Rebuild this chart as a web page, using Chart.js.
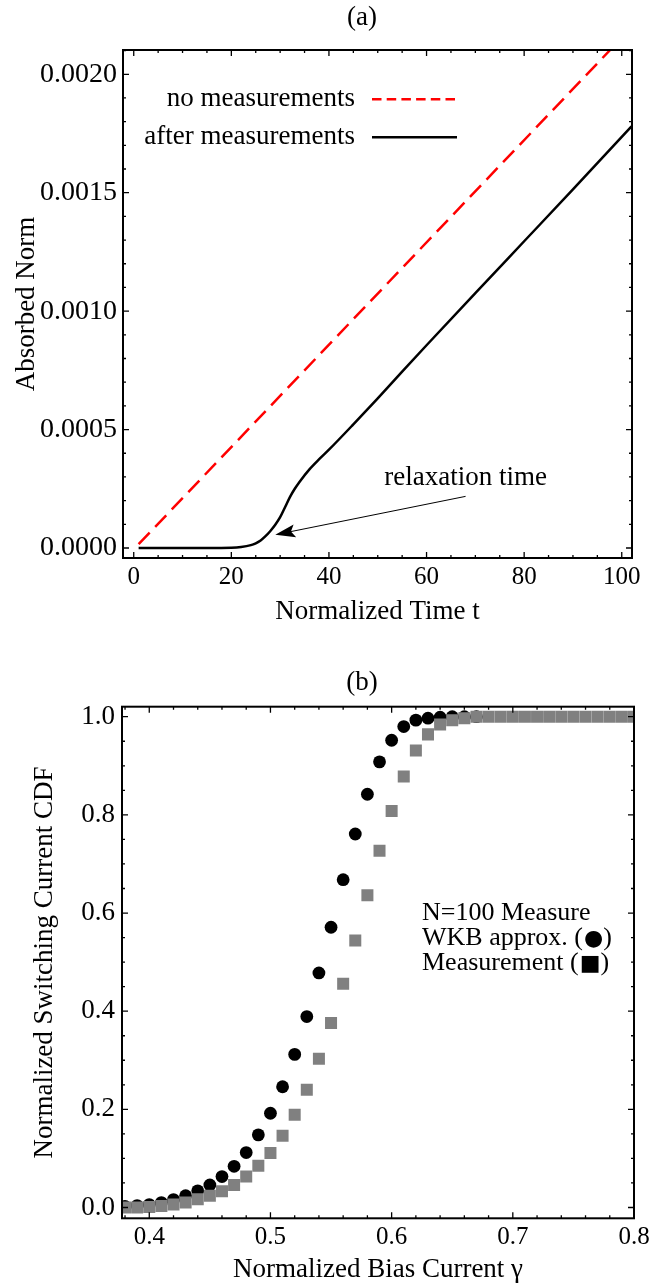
<!DOCTYPE html>
<html>
<head>
<meta charset="utf-8">
<title>Absorbed norm and switching current CDF</title>
<script src="https://cdn.jsdelivr.net/npm/chart.js@4.4.1/dist/chart.umd.min.js"></script>
<style>
  html, body { margin: 0; padding: 0; background: #fff; }
  #page { position: relative; width: 661px; height: 1284px; }
  .panel { position: absolute; left: 0; width: 661px; }
  #panelA { top: 0; height: 640px; }
  #panelB { top: 640px; height: 644px; }
</style>
</head>
<body>
<div id="page">
  <div class="panel" id="panelA"><canvas id="normChart"></canvas></div>
  <div class="panel" id="panelB"><canvas id="cdfChart"></canvas></div>
</div>
<script>
// ---- panel (a): absorbed norm vs normalized time ----
const timeNoMeas = [1, 100];
const normNoMeas = [0.000016, 0.002154];

const timeAfterMeas = [1, 5, 10, 15, 20, 22, 24, 25, 26, 27, 28, 29, 30, 31, 32, 33, 34, 36, 38, 40,
  45, 50, 55, 60, 70, 80, 90, 100, 102];
const normAfterMeas = [0, 0, 0, 0, 0.000001, 0.000004, 0.000012, 0.00002, 0.000032, 0.00005, 0.000072,
  0.000098, 0.00013, 0.000172, 0.000215, 0.00025, 0.00028, 0.000332, 0.000375, 0.000415,
  0.000522, 0.000632, 0.000745, 0.000856, 0.001076, 0.001295, 0.001514, 0.001736, 0.00178];

const timeTicks = [0, 20, 40, 60, 80, 100];
const normTicks = [0, 0.0005, 0.001, 0.0015, 0.002];

// ---- panel (b): switching current CDF vs bias current ----
const biasCurrent = [0.38, 0.39, 0.40, 0.41, 0.42, 0.43, 0.44, 0.45, 0.46, 0.47, 0.48, 0.49, 0.50,
  0.51, 0.52, 0.53, 0.54, 0.55, 0.56, 0.57, 0.58, 0.59, 0.60, 0.61, 0.62, 0.63, 0.64, 0.65, 0.66,
  0.67, 0.68, 0.69, 0.70, 0.71, 0.72, 0.73, 0.74, 0.75, 0.76, 0.77, 0.78, 0.79, 0.80];
// WKB points stop where they disappear under the measured squares
const wkbCdf = [0.002, 0.004, 0.006, 0.010, 0.016, 0.024, 0.034, 0.046, 0.063, 0.084, 0.112, 0.148,
  0.192, 0.246, 0.312, 0.389, 0.478, 0.571, 0.668, 0.761, 0.842, 0.908, 0.952, 0.980, 0.993, 0.997,
  0.999, 1.0, 1.0, 1.0];
const measuredCdf = [0.0, 0.0, 0.001, 0.003, 0.006, 0.010, 0.017, 0.024, 0.033, 0.046, 0.063, 0.085,
  0.111, 0.146, 0.189, 0.240, 0.303, 0.376, 0.456, 0.544, 0.636, 0.727, 0.808, 0.878, 0.931, 0.964,
  0.984, 0.993, 0.997, 1.0, 1.0, 1.0, 1.0, 1.0, 1.0, 1.0, 1.0, 1.0, 1.0, 1.0, 1.0, 1.0, 1.0];

const biasTicks = [0.4, 0.5, 0.6, 0.7, 0.8];
const cdfTicks = [0, 0.2, 0.4, 0.6, 0.8, 1.0];

// each legend line is [text before symbol, symbol, text after symbol]
const legendLinesB = [
  ['N=100 Measure', '', ''],
  ['WKB approx. (', '\u25CF', ')'],
  ['Measurement (', '\u25A0', ')']
];

const serif = "'Liberation Serif', 'Times New Roman', serif";
Chart.defaults.font.family = serif;
Chart.defaults.color = '#000';

function toPoints(xs, ys) {
  return ys.map((y, i) => ({ x: xs[i], y: y }));
}

// Mathematica-like frame with inward ticks on all four sides
const frameTicks = {
  id: 'frameTicks',
  afterDatasetsDraw(chart, args, opts) {
    const { ctx, chartArea: a, scales: { x, y } } = chart;
    ctx.save();
    ctx.strokeStyle = '#000';
    ctx.lineWidth = 1.3;
    ctx.beginPath();
    const steps = (scale, minor, major, cb) => {
      for (let i = Math.ceil(scale.min / minor - 1e-6); i * minor <= scale.max + 1e-9; i++) {
        const v = i * minor;
        const r = v / major;
        cb(scale.getPixelForValue(v), Math.abs(r - Math.round(r)) < 1e-6);
      }
    };
    steps(x, opts.xMinor, opts.xMajor, (px, isMajor) => {
      const len = isMajor ? opts.major : opts.minor;
      ctx.moveTo(px, a.bottom); ctx.lineTo(px, a.bottom - len);
      ctx.moveTo(px, a.top); ctx.lineTo(px, a.top + len);
    });
    steps(y, opts.yMinor, opts.yMajor, (py, isMajor) => {
      const len = isMajor ? opts.major : opts.minor;
      ctx.moveTo(a.left, py); ctx.lineTo(a.left + len, py);
      ctx.moveTo(a.right, py); ctx.lineTo(a.right - len, py);
    });
    ctx.stroke();
    ctx.lineWidth = 2;
    ctx.strokeRect(a.left, a.top, a.right - a.left, a.bottom - a.top);
    ctx.restore();
  }
};

// panel letter above the frame
const panelLabel = {
  id: 'panelLabel',
  afterDraw(chart, args, opts) {
    const ctx = chart.ctx;
    ctx.save();
    ctx.font = '27px ' + serif;
    ctx.fillStyle = '#000';
    ctx.textAlign = 'center';
    ctx.textBaseline = 'middle';
    ctx.fillText(opts.text, opts.x, opts.y);
    ctx.restore();
  }
};

// legend of panel (a): label on the left, line sample on the right
const lineLegend = {
  id: 'lineLegend',
  afterDraw(chart, args, opts) {
    const { ctx, chartArea: a } = chart;
    ctx.save();
    ctx.font = '27px ' + serif;
    ctx.fillStyle = '#000';
    ctx.textAlign = 'right';
    ctx.textBaseline = 'middle';
    chart.data.datasets.forEach((ds, i) => {
      const yy = a.top + opts.rows[i];
      ctx.fillText(ds.label, a.left + opts.textRight, yy);
      ctx.beginPath();
      ctx.strokeStyle = ds.borderColor;
      ctx.lineWidth = ds.borderWidth;
      ctx.setLineDash(ds.legendDash || []);
      ctx.moveTo(a.left + opts.lineStart, yy);
      ctx.lineTo(a.left + opts.lineEnd, yy);
      ctx.stroke();
    });
    ctx.restore();
  }
};

// "relaxation time" arrow, placed in data coordinates
const arrowNote = {
  id: 'arrowNote',
  afterDraw(chart, args, opts) {
    const { ctx, scales: { x, y } } = chart;
    const x0 = x.getPixelForValue(opts.from.x), y0 = y.getPixelForValue(opts.from.y);
    const x1 = x.getPixelForValue(opts.to.x), y1 = y.getPixelForValue(opts.to.y);
    const ang = Math.atan2(y1 - y0, x1 - x0);
    const cos = Math.cos(ang), sin = Math.sin(ang);
    const head = 20, half = 6.5, notch = 4;
    const bx = x1 - head * cos, by = y1 - head * sin;
    ctx.save();
    ctx.strokeStyle = '#000';
    ctx.fillStyle = '#000';
    ctx.lineWidth = 1;
    ctx.beginPath();
    ctx.moveTo(x0, y0);
    ctx.lineTo(bx + notch * cos, by + notch * sin);
    ctx.stroke();
    ctx.beginPath();
    ctx.moveTo(x1, y1);
    ctx.lineTo(bx + half * sin, by - half * cos);
    ctx.lineTo(bx + notch * cos, by + notch * sin);
    ctx.lineTo(bx - half * sin, by + half * cos);
    ctx.closePath();
    ctx.fill();
    ctx.font = '27px ' + serif;
    ctx.textAlign = 'center';
    ctx.textBaseline = 'middle';
    ctx.fillText(opts.text, x.getPixelForValue(opts.textAt.x), y.getPixelForValue(opts.textAt.y));
    ctx.restore();
  }
};

// text legend inside panel (b), symbols drawn a bit larger than the text
const textLegend = {
  id: 'textLegend',
  afterDraw(chart, args, opts) {
    const { ctx, chartArea: a } = chart;
    const textFont = '26px ' + serif;
    const symFont = "22px 'DejaVu Sans', sans-serif";
    ctx.save();
    ctx.fillStyle = '#000';
    ctx.textAlign = 'left';
    ctx.textBaseline = 'middle';
    opts.lines.forEach((parts, i) => {
      let xx = a.left + opts.left;
      const yy = a.top + opts.rows[i];
      parts.forEach((part, j) => {
        if (!part) return;
        ctx.font = j === 1 ? symFont : textFont;
        ctx.fillText(part, xx, yy + (j === 1 ? 1 : 0));
        xx += ctx.measureText(part).width + (j === 0 && parts[1] ? 1 : 0);
      });
    });
    ctx.restore();
  }
};

const normChart = new Chart(document.getElementById('normChart'), {
  type: 'scatter',
  data: {
    datasets: [
      {
        label: 'no measurements',
        data: toPoints(timeNoMeas, normNoMeas),
        showLine: true,
        borderColor: '#ff0000',
        borderWidth: 2.5,
        borderDash: [16, 8],
        legendDash: [9.5, 5.2],
        pointRadius: 0
      },
      {
        label: 'after measurements',
        data: toPoints(timeAfterMeas, normAfterMeas),
        showLine: true,
        borderColor: '#000000',
        borderWidth: 2.5,
        cubicInterpolationMode: 'monotone',
        pointRadius: 0
      }
    ]
  },
  options: {
    responsive: true,
    maintainAspectRatio: false,
    animation: false,
    events: [],
    layout: { padding: { left: 0, right: 29, top: 50, bottom: 0 } },
    plugins: {
      legend: { display: false },
      tooltip: { enabled: false },
      frameTicks: { xMajor: 20, xMinor: 5, yMajor: 0.0005, yMinor: 0.0001, major: 6, minor: 3 },
      panelLabel: { text: '(a)', x: 362, y: 18 },
      lineLegend: { textRight: 232, lineStart: 249, lineEnd: 334, rows: [49.3, 87.3] },
      arrowNote: {
        text: 'relaxation time',
        textAt: { x: 68, y: 0.000296 },
        from: { x: 68, y: 0.000218 },
        to: { x: 29, y: 0.000056 }
      }
    },
    scales: {
      x: {
        type: 'linear',
        min: -2.2,
        max: 102.1,
        afterBuildTicks: s => { s.ticks = timeTicks.map(v => ({ value: v })); },
        afterFit: s => { s.height = 82; },
        grid: { display: false, drawTicks: false },
        border: { display: false },
        ticks: { font: { size: 25 }, padding: 4, maxRotation: 0, callback: v => String(v) },
        title: { display: true, text: 'Normalized Time t', font: { size: 27, lineHeight: 1 }, padding: { top: 0, bottom: 14.5 } }
      },
      y: {
        type: 'linear',
        min: -0.0000422,
        max: 0.0021025,
        afterBuildTicks: s => { s.ticks = normTicks.map(v => ({ value: v })); },
        afterFit: s => { s.width = 123; },
        grid: { display: false, drawTicks: false },
        border: { display: false },
        ticks: { font: { size: 28 }, padding: 6, callback: v => v.toFixed(4) },
        title: { display: true, text: 'Absorbed Norm', font: { size: 27, lineHeight: 1 }, padding: { top: 13.5, bottom: 0 } }
      }
    }
  },
  plugins: [frameTicks, panelLabel, lineLegend, arrowNote]
});

const cdfChart = new Chart(document.getElementById('cdfChart'), {
  type: 'scatter',
  data: {
    datasets: [
      {
        label: 'WKB approx.',
        data: toPoints(biasCurrent, wkbCdf),
        pointStyle: 'circle',
        pointRadius: 6.4,
        pointBackgroundColor: '#000000',
        pointBorderWidth: 0,
        order: 2
      },
      {
        label: 'Measurement',
        data: toPoints(biasCurrent, measuredCdf),
        pointStyle: 'rect',
        pointRadius: 8.5,
        pointBackgroundColor: '#808080',
        pointBorderWidth: 0,
        order: 1
      }
    ]
  },
  options: {
    responsive: true,
    maintainAspectRatio: false,
    animation: false,
    events: [],
    layout: { padding: { left: 0, right: 27, top: 66.7, bottom: 0 } },
    plugins: {
      legend: { display: false },
      tooltip: { enabled: false },
      frameTicks: { xMajor: 0.1, xMinor: 0.02, yMajor: 0.2, yMinor: 0.05, major: 6, minor: 3 },
      panelLabel: { text: '(b)', x: 362, y: 43 },
      textLegend: { lines: legendLinesB, left: 300, rows: [206.6, 231.6, 256.6] }
    },
    scales: {
      x: {
        type: 'linear',
        min: 0.3775,
        max: 0.8,
        afterBuildTicks: s => { s.ticks = biasTicks.map(v => ({ value: v })); },
        afterFit: s => { s.height = 65.7; },
        grid: { display: false, drawTicks: false },
        border: { display: false },
        ticks: { font: { size: 25 }, padding: 4, maxRotation: 0, callback: v => v.toFixed(1) },
        title: { display: true, text: 'Normalized Bias Current \u03B3', font: { size: 27, lineHeight: 1 }, padding: { top: 0, bottom: 0.5 } }
      },
      y: {
        type: 'linear',
        min: -0.022,
        max: 1.0204,
        afterBuildTicks: s => { s.ticks = cdfTicks.map(v => ({ value: v })); },
        afterFit: s => { s.width = 122; },
        grid: { display: false, drawTicks: false },
        border: { display: false },
        ticks: { font: { size: 27 }, padding: 7, callback: v => v.toFixed(1) },
        title: { display: true, text: 'Normalized Switching Current CDF', font: { size: 27, lineHeight: 1 }, padding: { top: 31.5, bottom: 0 } }
      }
    }
  },
  plugins: [frameTicks, panelLabel, textLegend]
});
</script>
</body>
</html>
